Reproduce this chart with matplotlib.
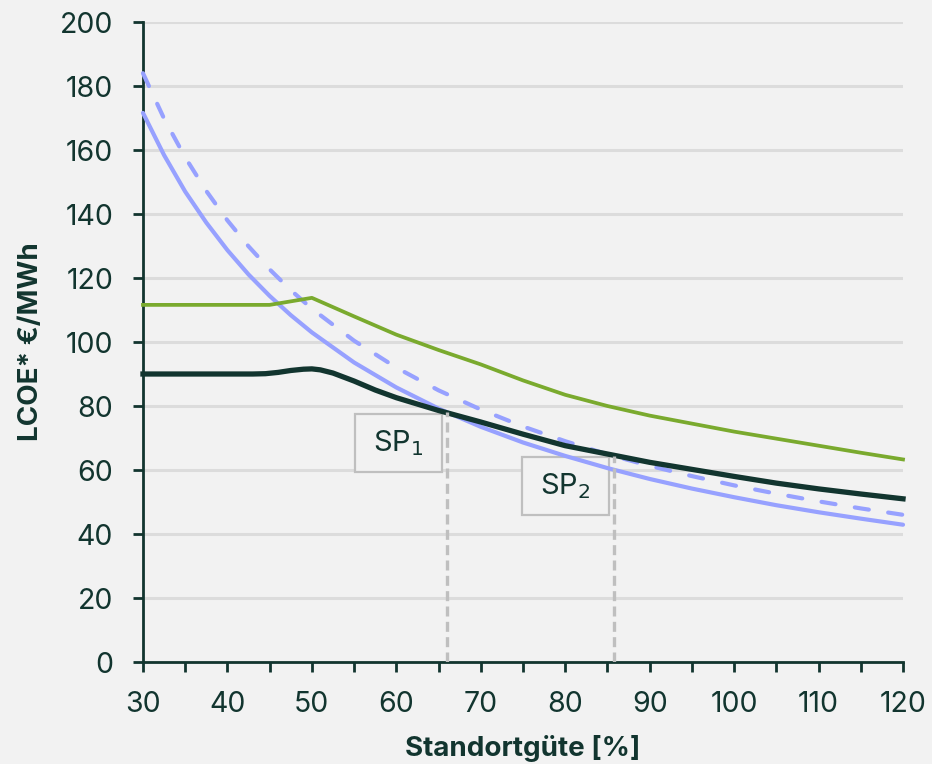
import matplotlib.pyplot as plt
from matplotlib.patches import Rectangle
from matplotlib.ticker import MultipleLocator

plt.rcParams['font.family'] = ['Inter', 'DejaVu Sans']

# Standortgüte [%]
x = [30, 32.5, 35, 37.5, 40, 42.5, 45, 47.5, 50, 55, 60, 65, 70, 75, 80, 85, 90, 95,
     100, 105, 110, 115, 120]
blue_solid = [171.6, 158.4, 147.0, 137.3, 128.7, 121.1, 114.4, 108.4, 103.0, 93.6, 85.8,
              79.2, 73.5, 68.6, 64.4, 60.6, 57.2, 54.2, 51.5, 49.0, 46.8, 44.8, 42.9]
blue_dashed = [184.0, 169.8, 157.7, 147.2, 138.0, 129.9, 122.7, 116.2, 110.4, 100.4, 92.0,
               84.9, 78.9, 73.6, 69.0, 64.9, 61.3, 58.1, 55.2, 52.6, 50.2, 48.0, 46.0]
x_green = [30, 35, 40, 45, 50, 55, 60, 65, 70, 75, 80, 85, 90, 95, 100, 105, 110, 115, 120]
green = [111.6, 111.6, 111.6, 111.6, 113.8, 108.0, 102.3, 97.5, 93.0, 88.0, 83.5,
         80.0, 77.0, 74.5, 72.0, 69.8, 67.6, 65.4, 63.3]
x_dark = [30, 35, 40, 43, 44.5, 46, 47.5, 49, 50, 51, 52.5, 55, 57.5, 60, 65, 70, 75, 80,
          85, 90, 95, 100, 105, 110, 115, 120]
dark = [90.0, 90.0, 90.0, 90.0, 90.1, 90.5, 91.1, 91.5, 91.6, 91.3, 90.3, 87.8, 85.0, 82.6,
        78.6, 75.0, 71.2, 67.6, 65.0, 62.4, 60.2, 58.0, 55.9, 54.1, 52.5, 51.0]

# Schnittpunkte
sp_x = [66, 85.8]
sp_y = [78, 64.5]
sp_labels = ['SP$_1$', 'SP$_2$']

bg = '#f2f2f2'
dk = '#12352f'
blue = '#97a1ff'
grn = '#7aaa2e'
gridc = '#dcdcdc'
spc = '#bfbfbf'

fig = plt.figure(figsize=(9.32, 7.64), dpi=100, facecolor=bg)
ax = fig.add_axes([0.1534, 0.1335, 0.8155, 0.8377], facecolor=bg)

ax.set_xlim(30, 120)
ax.set_ylim(0, 200)

ax.yaxis.set_major_locator(MultipleLocator(20))
ax.xaxis.set_major_locator(MultipleLocator(10))
ax.xaxis.set_minor_locator(MultipleLocator(5))
ax.grid(axis='y', color=gridc, lw=2.2, zorder=0)
ax.set_axisbelow(True)

for s in ['top', 'right']:
    ax.spines[s].set_visible(False)
for s in ['left', 'bottom']:
    ax.spines[s].set_color(dk)
    ax.spines[s].set_linewidth(2.0)

ax.tick_params(axis='y', which='major', length=7.5, width=2, color=dk,
               labelcolor=dk, labelsize=20.5, pad=14)
ax.tick_params(axis='x', which='both', length=7.5, width=2, color=dk,
               labelcolor=dk, labelsize=20.5, pad=13.5)

ax.plot(x, blue_solid, color=blue, lw=3.0, solid_capstyle='round', zorder=3, clip_on=False)
ax.plot(x, blue_dashed, color=blue, lw=3.0, dashes=(3.4, 4.7), dash_capstyle='round',
        zorder=3, clip_on=False)
ax.plot(x_green, green, color=grn, lw=2.7, zorder=4, clip_on=False)
ax.plot(x_dark, dark, color=dk, lw=3.8, zorder=5, clip_on=False)

for sx, sy, lab in zip(sp_x, sp_y, sp_labels):
    ax.plot([sx, sx], [0, sy], color=spc, lw=2.4, dashes=(3.0, 1.6), zorder=6)
    r = Rectangle((sx - 10.9, sy - 18.5), 10.3, 18.0, facecolor=bg, edgecolor=spc,
                  lw=1.6, zorder=2)
    ax.add_patch(r)
    ax.text(sx - 10.9 + 5.15, sy - 18.5 + 9.0, lab, ha='center', va='center',
            fontsize=21, color=dk, zorder=7)

ax.set_xlabel('Standortgüte [%]', fontsize=20, fontweight='bold', color=dk, labelpad=12)
ax.set_ylabel('LCOE* €/MWh', fontsize=20, fontweight='bold', color=dk, labelpad=11)

plt.savefig('out.png', dpi=100, facecolor=bg)
